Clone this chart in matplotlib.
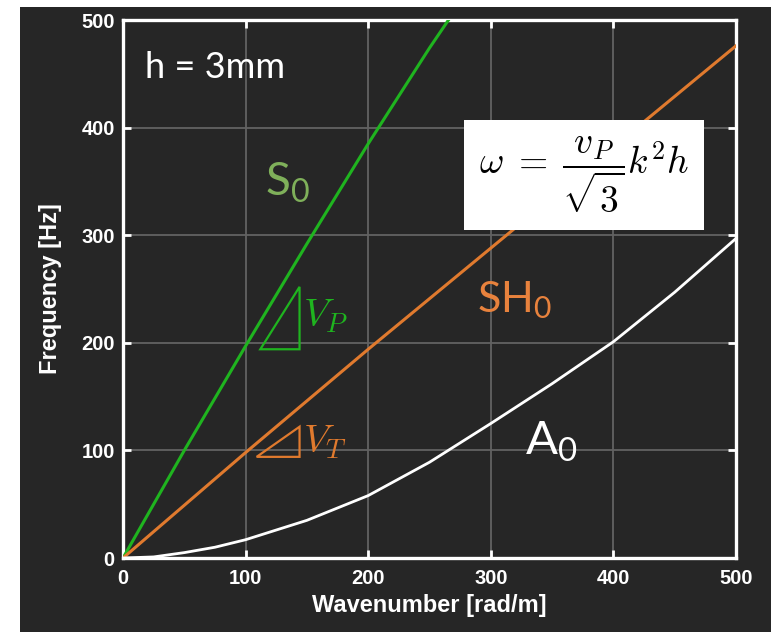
import numpy as np
import matplotlib
matplotlib.use('Agg')
import matplotlib.pyplot as plt
from matplotlib.patches import Polygon, Rectangle

# dispersion curves
k_s0 = [0, 50, 100, 150, 200, 250, 275]
f_s0 = [0, 100, 197, 292, 385, 474, 516]

k_sh0 = [0, 100, 200, 300, 400, 500]
f_sh0 = [0, 98, 194, 288, 382, 476]

k_a0 = [0, 25, 50, 75, 100, 150, 200, 250, 300, 350, 400, 450, 500]
f_a0 = [0, 1, 5, 10, 17, 35, 58, 89, 125, 162, 201, 247, 297]

# slope triangles
vp_tri_k = [112, 144, 144]
vp_tri_f = [194, 194, 252]
vt_tri_k = [109, 144, 144]
vt_tri_f = [94, 94, 122]

ticks = [0, 100, 200, 300, 400, 500]

bg = '#262626'
green = '#1fb41f'
orange = '#e07a2e'

plt.rcParams['font.family'] = ['Liberation Sans', 'DejaVu Sans']
plt.rcParams['mathtext.fontset'] = 'custom'
plt.rcParams['mathtext.rm'] = 'Lato'
plt.rcParams['mathtext.it'] = 'Lato:italic'

fig = plt.figure(figsize=(7.71, 6.32), dpi=100, facecolor='white')
# dark panel, with thin white strip on left and top like the screenshot
fig.patches.append(Rectangle((20 / 771, 0), 1, 1 - 7 / 632, transform=fig.transFigure,
                             facecolor=bg, edgecolor='none', zorder=-5))

ax = fig.add_axes([123 / 771, 74 / 632, 613 / 771, 538 / 632])
ax.set_facecolor(bg)

ax.plot(k_s0, f_s0, color=green, lw=2.2, zorder=3)
ax.plot(k_sh0, f_sh0, color=orange, lw=2.2, zorder=3)
ax.plot(k_a0, f_a0, color='white', lw=2.0, zorder=3)

ax.add_patch(Polygon(list(zip(vp_tri_k, vp_tri_f)), closed=True, fill=False,
                     edgecolor=green, lw=1.6, zorder=3))
ax.add_patch(Polygon(list(zip(vt_tri_k, vt_tri_f)), closed=True, fill=False,
                     edgecolor=orange, lw=1.6, zorder=3))

ax.set_xlim(0, 500)
ax.set_ylim(0, 500)
ax.set_xticks(ticks)
ax.set_yticks(ticks)
ax.grid(True, color='#626262', lw=1.3, zorder=1)
ax.set_axisbelow(True)

for s in ax.spines.values():
    s.set_color('white')
    s.set_linewidth(2.4)
ax.tick_params(direction='in', length=6, width=2, color='white', labelcolor='white',
               labelsize=14.5, top=True, right=True)
ax.tick_params(axis='x', pad=8)
ax.tick_params(axis='y', pad=6)
for lab in ax.get_xticklabels() + ax.get_yticklabels():
    lab.set_fontweight('bold')

ax.set_xlabel('Wavenumber [rad/m]', color='white', fontsize=17, fontweight='bold', labelpad=4)
ax.set_ylabel('Frequency [Hz]', color='white', fontsize=17, fontweight='bold', labelpad=14)

# annotations
ax.text(18, 446, 'h = 3mm', color='white', fontsize=26, family='Lato', va='baseline')
ax.text(116, 337, 'S$_0$', color='#7fb05a', fontsize=33, family='Lato', va='baseline',
        math_fontfamily='custom')
ax.text(289, 228, 'SH$_0$', color='#e8823d', fontsize=31, family='Lato', va='baseline',
        math_fontfamily='custom')
ax.text(328, 96, 'A$_0$', color='white', fontsize=34, family='Lato', va='baseline',
        math_fontfamily='custom')

ax.text(147, 225, r'$V_P$', color=green, fontsize=28, math_fontfamily='cm', va='center')
ax.text(147, 108, r'$V_T$', color=orange, fontsize=28, math_fontfamily='cm', va='center')

ax.text(376, 356, r'$\omega\;=\;\dfrac{v_P}{\sqrt{3}}k^2h$', color='black', fontsize=27,
        math_fontfamily='cm', ha='center', va='center', zorder=5,
        bbox=dict(boxstyle='square,pad=0.4', facecolor='white', edgecolor='none'))

fig.savefig('out.png', dpi=100, facecolor=fig.get_facecolor())
